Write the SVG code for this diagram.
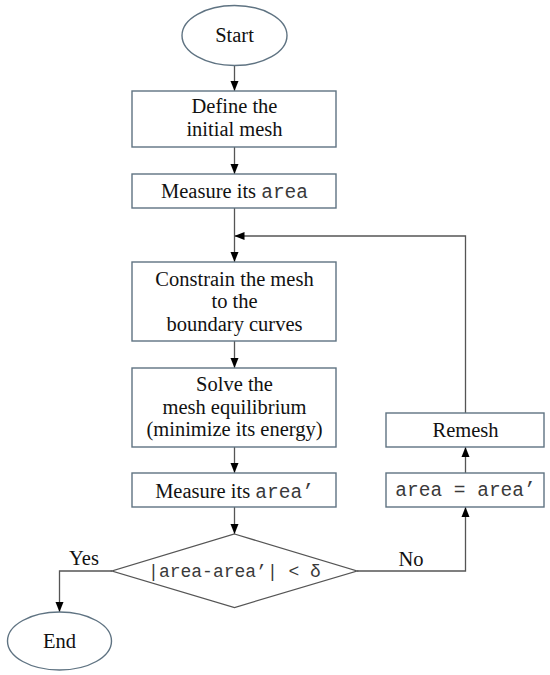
<svg xmlns="http://www.w3.org/2000/svg" width="550" height="675" viewBox="0 0 550 675">
<defs>
<style>
.box{fill:#fff;stroke:#5f7382;stroke-width:1.4}
.dia{fill:#fff;stroke:#555;stroke-width:1.3}
.c{fill:none;stroke:#555;stroke-width:1.3}
.t{font-family:"Liberation Serif",serif;font-size:20.5px;fill:#111;text-anchor:middle}
.m{font-family:"Liberation Mono",monospace;font-size:19.5px;fill:#3a3a3a}
</style>
<marker id="ah" viewBox="0 0 10 10" refX="10" refY="5" markerWidth="10" markerHeight="10" markerUnits="userSpaceOnUse" orient="auto">
<path d="M0,1 L10,5 L0,9 Z" fill="#000"/>
</marker>
</defs>
<rect width="550" height="675" fill="#fff"/>
<g id="connectors">
<line class="c" x1="234.5" y1="65.5" x2="234.5" y2="91" marker-end="url(#ah)"/>
<line class="c" x1="234.5" y1="147" x2="234.5" y2="174" marker-end="url(#ah)"/>
<line class="c" x1="234.5" y1="208" x2="234.5" y2="262" marker-end="url(#ah)"/>
<polyline class="c" points="465.5,413 465.5,236 234.5,236" marker-end="url(#ah)"/>
<line class="c" x1="234.5" y1="341" x2="234.5" y2="368" marker-end="url(#ah)"/>
<line class="c" x1="234.5" y1="447" x2="234.5" y2="473" marker-end="url(#ah)"/>
<line class="c" x1="234.5" y1="507" x2="234.5" y2="534" marker-end="url(#ah)"/>
<polyline class="c" points="112,571 59.5,571 59.5,612" marker-end="url(#ah)"/>
<polyline class="c" points="357,571 465.5,571 465.5,507" marker-end="url(#ah)"/>
<line class="c" x1="465.5" y1="473" x2="465.5" y2="447" marker-end="url(#ah)"/>
<text class="t" x="84" y="565">Yes</text>
<text class="t" x="411" y="566">No</text>
</g>
<g id="start">
<ellipse class="box" cx="234.5" cy="35.5" rx="52.5" ry="30"/>
<text class="t" x="234.5" y="42">Start</text>
</g>
<g id="define">
<rect class="box" x="132" y="91" width="204" height="56"/>
<text class="t" x="234.5" y="112.5">Define the</text>
<text class="t" x="234.5" y="135.5">initial mesh</text>
</g>
<g id="measure1">
<rect class="box" x="132" y="174" width="204" height="34"/>
<text class="t" x="234.5" y="197.5">Measure its <tspan class="m">area</tspan></text>
</g>
<g id="constrain">
<rect class="box" x="132" y="262" width="204" height="79"/>
<text class="t" x="234.5" y="285.5">Constrain the mesh</text>
<text class="t" x="234.5" y="308">to the</text>
<text class="t" x="234.5" y="330.5">boundary curves</text>
</g>
<g id="solve">
<rect class="box" x="132" y="368" width="204" height="79"/>
<text class="t" x="234.5" y="391">Solve the</text>
<text class="t" x="234.5" y="413.5">mesh equilibrium</text>
<text class="t" x="234.5" y="436">(minimize its energy)</text>
</g>
<g id="measure2">
<rect class="box" x="132" y="473" width="204" height="34"/>
<text class="t" x="234.5" y="497.5">Measure its <tspan class="m">area’</tspan></text>
</g>
<g id="decision">
<polygon class="dia" points="234.5,534 357,571 234.5,607.5 112,571"/>
<text class="m" x="234.5" y="577" text-anchor="middle" style="font-size:18px">|area-area’| &lt; δ</text>
</g>
<g id="end">
<ellipse class="box" cx="59.5" cy="641" rx="52" ry="29"/>
<text class="t" x="59.5" y="647.5">End</text>
</g>
<g id="assign">
<rect class="box" x="386" y="473" width="158" height="34"/>
<text class="m" x="465.5" y="496" text-anchor="middle">area = area’</text>
</g>
<g id="remesh">
<rect class="box" x="386" y="413" width="158" height="34"/>
<text class="t" x="465.5" y="436.5">Remesh</text>
</g>
</svg>
